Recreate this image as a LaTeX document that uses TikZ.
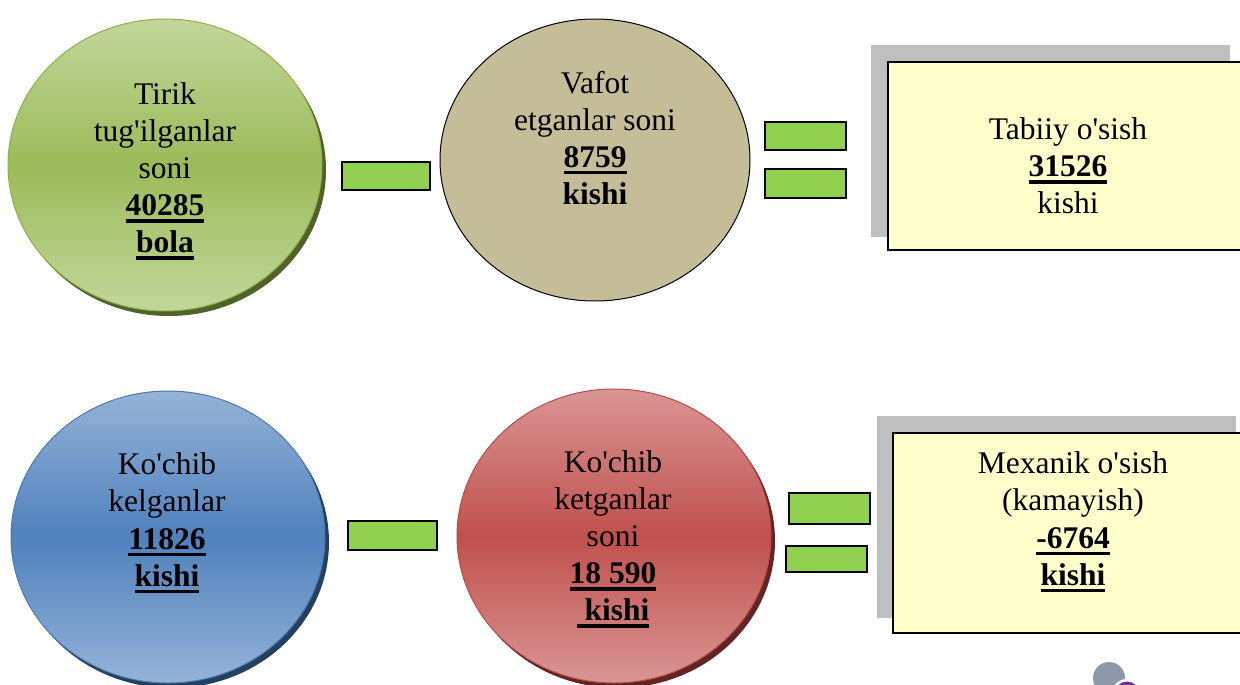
\documentclass[tikz,border=0pt]{standalone}
\usepackage{fontspec}
\newfontfamily\tnr{Liberation Serif}
\usetikzlibrary{shapes.geometric}
\definecolor{grLight}{HTML}{C3D69B}
\definecolor{grMid}{HTML}{9BBB59}
\definecolor{grShadow}{HTML}{4F6228}
\definecolor{grEdge}{HTML}{8DB04C}
\definecolor{blLight}{HTML}{95B3D7}
\definecolor{blMid}{HTML}{4F81BD}
\definecolor{blShadow}{HTML}{243F60}
\definecolor{blEdge}{HTML}{4A78B0}
\definecolor{rdLight}{HTML}{D99694}
\definecolor{rdMid}{HTML}{C0504D}
\definecolor{rdShadow}{HTML}{632523}
\definecolor{rdEdge}{HTML}{B54A47}
\definecolor{beige}{HTML}{C4BD97}
\definecolor{signGreen}{HTML}{92D050}
\definecolor{ylw}{HTML}{FFFFCC}
\definecolor{shGray}{HTML}{BFBFBF}
\definecolor{artGray}{HTML}{8E9AAA}
\definecolor{artPurple}{HTML}{7030A0}
\newcommand\ulx[1]{\setbox0=\hbox{#1}\rlap{\vrule width\wd0 height -3.5pt depth 6.8pt}\box0}
\tikzset{
  txt/.style={font=\tnr\fontsize{31.5}{37.2}\selectfont, align=center, inner sep=0pt},
  bigcirc/.style={ellipse, minimum width=314pt, minimum height=292pt, inner sep=0pt, line width=1pt},
  signbar/.style={draw=black, line width=1.2pt, fill=signGreen},
  ybox/.style={fill=ylw, draw=black, line width=1.3pt},
  gbox/.style={fill=shGray},
}
\begin{document}
\begin{tikzpicture}[x=1pt,y=-1pt]
\useasboundingbox (0,0) rectangle (1240,685);
% ---------- top row ----------
\fill[grShadow] (169,170) ellipse (157 and 146);
\node[bigcirc, draw=grEdge, top color=grLight, bottom color=grLight, middle color=grMid] (birth) at (165,165) {};
\node[txt] (birthT) at (165,171) {Tirik\\tug'ilganlar\\soni\\\textbf{\ulx{40285}}\\\textbf{\ulx{bola}}};

\draw[signbar] (342,162) rectangle (430,190);

\node[ellipse, minimum width=310pt, minimum height=282pt, inner sep=0pt, fill=beige, draw=black, line width=1pt] (death) at (595,160) {};
\node[txt] (deathT) at (595,138) {Vafot\\etganlar soni\\\textbf{\ulx{8759}}\\\textbf{kishi}};

\draw[signbar] (765,122) rectangle (846,150);
\draw[signbar] (765,169) rectangle (846,198);

\fill[gbox] (871,45) rectangle (1230,237);
\draw[ybox] (888,62) rectangle (1250,250);
\node[txt] (natT) at (1068,166) {Tabiiy o'sish\\\textbf{\ulx{31526}}\\kishi};

% ---------- bottom row ----------
\fill[blShadow] (172,542) ellipse (157 and 146);
\node[bigcirc, draw=blEdge, top color=blLight, bottom color=blLight, middle color=blMid] (inmig) at (168,537) {};
\node[txt] (inmigT) at (167,523) {Ko'chib\\kelganlar\\\textbf{\ulx{11826}}\\\textbf{\ulx{kishi}}};

\draw[signbar] (348,521) rectangle (437,550);

\fill[rdShadow] (618,541) ellipse (157 and 147);
\node[bigcirc, minimum height=294pt, draw=rdEdge, top color=rdLight, bottom color=rdLight, middle color=rdMid] (outmig) at (614,536) {};
\node[txt] (outmigT) at (613,539) {Ko'chib\\ketganlar\\soni\\\textbf{\ulx{18 590}}\\\textbf{\ulx{\ kishi}}};

\draw[signbar] (789,493) rectangle (870,524);
\draw[signbar] (786,546) rectangle (867,572);

\fill[gbox] (877,416) rectangle (1236,618);
\draw[ybox] (893,433) rectangle (1250,633);
\node[txt] (mechT) at (1073,522) {Mexanik o'sish\\(kamayish)\\\textbf{\ulx{-6764}}\\\textbf{\ulx{kishi}}};

% ---------- corner fragment ----------
\begin{scope}
\clip (0,0) rectangle (1240,685);
\fill[artGray] (1109,678) circle (16);
\fill[white] (1127,694) circle (15);
\fill[artPurple] (1127,694) circle (12.5);
\end{scope}
\end{tikzpicture}
\end{document}
